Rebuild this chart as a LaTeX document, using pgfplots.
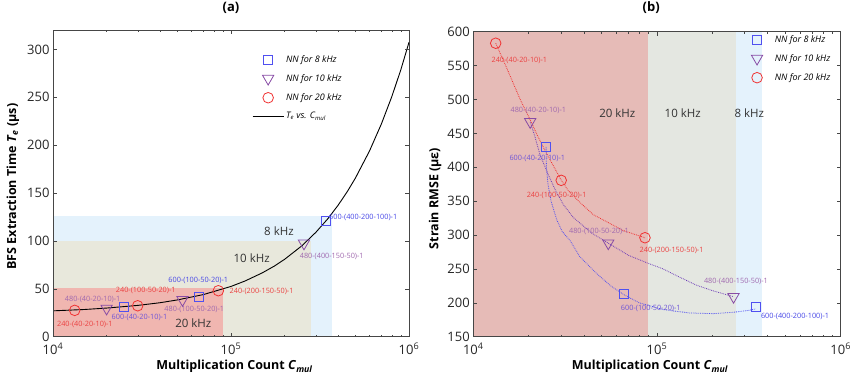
\documentclass[border=0pt]{standalone}
\usepackage{fontspec}
\setmainfont{Open Sans}
\usepackage{pgfplots}
\pgfplotsset{compat=1.18}
\definecolor{regR}{RGB}{240,182,176}
\definecolor{regG}{RGB}{232,232,220}
\definecolor{regB}{RGB}{228,242,252}
\definecolor{regRb}{RGB}{230,187,183}
\definecolor{regGb}{RGB}{228,231,225}
\definecolor{mB}{RGB}{80,80,240}
\definecolor{mP}{RGB}{135,75,165}
\definecolor{mR}{RGB}{240,50,50}
\definecolor{tB}{RGB}{70,70,230}
\definecolor{tP}{RGB}{160,105,175}
\definecolor{tBP}{RGB}{110,85,215}
\definecolor{tR}{RGB}{235,65,65}
\definecolor{axc}{RGB}{70,70,70}
\tikzset{lab/.style={font=\fontsize{7.3}{8}\selectfont, inner sep=0pt},
  reg/.style={font=\fontsize{11.5}{13}\selectfont, text=black!80}}
\pgfplotsset{
  myax/.style={
    scale only axis, anchor=south west,
    xtick={1e4,1e5,1e6},
    xticklabels={10\textsuperscript{4},10\textsuperscript{5},10\textsuperscript{6}},
    tick align=inside,
    major tick length=4pt, minor tick length=2pt,
    axis line style={axc, line width=0.6pt},
    every tick/.style={axc, line width=0.5pt},
    tick label style={font=\fontsize{13}{15}\selectfont, text=black!85},
    xticklabel style={yshift=-3pt},
    /pgf/number format/assume math mode=true,
    axis on top,
    label style={font=\bfseries\fontsize{12.5}{14}\selectfont},
    title style={font=\bfseries\fontsize{13}{15}\selectfont},
    legend cell align=left,
    legend style={draw=none, fill=none, font=\itshape\fontsize{9}{11}\selectfont,
      row sep=6.5pt, inner sep=0pt},
    legend image code/.code={\path (0pt,-3pt) (31pt,3pt); \draw[mark repeat=2,mark phase=2,##1] plot coordinates {(0pt,0pt) (15.5pt,0pt) (31pt,0pt)};},
  },
  sq/.style={only marks, mark=square, mark size=4.5pt, mB, mark options={line width=0.8pt}},
  tri/.style={only marks, mark=triangle, mark size=6.5pt, mP, mark options={rotate=180, line width=0.8pt}},
  cir/.style={only marks, mark=o, mark size=5.3pt, mR, mark options={line width=0.8pt}},
}
\begin{document}
\begin{tikzpicture}[x=1pt,y=1pt]
\path[use as bounding box] (0,0) rectangle (863,382);
% ---------------- (a)
\begin{axis}[xmode=log, xmin=1e4, xmax=1e6, myax, at={(53pt,45.3pt)}, width=356pt, height=306.4pt,
  ymin=0, ymax=320, ytick={0,50,100,150,200,250,300},
  title={(a)}, title style={at={(axis description cs:0.5,1.052)}, anchor=center},
  xlabel={Multiplication Count \textit{C}\textsubscript{\textit{mul}}},
  xlabel style={at={(axis description cs:0.51,-0.098)}, anchor=center},
  ylabel={BFS Extraction Time \textit{T}\textsubscript{\textit{e}} (μs)},
  ylabel style={at={(axis description cs:-0.113,0.49)}, anchor=center, rotate=0},
  legend style={at={(axis description cs:0.559,0.925)}, anchor=north west},
]
\addplot[fill=regB, draw=none, forget plot] coordinates {(1e4,0) (3.68e5,0) (3.68e5,126) (1e4,126)} -- cycle;
\addplot[fill=regG, draw=none, forget plot] coordinates {(1e4,0) (2.8e5,0) (2.8e5,100) (1e4,100)} -- cycle;
\addplot[fill=regR, draw=none, forget plot] coordinates {(1e4,0) (8.98e4,0) (8.98e4,50.5) (1e4,50.5)} -- cycle;
\addplot[sq] coordinates {(24900,30.7) (66000,41.8) (340000,121)};
\addlegendentry{NN for 8 kHz}
\addplot[tri] coordinates {(20000,29.5) (53400,38.5) (257000,97.5)};
\addlegendentry{NN for 10 kHz}
\addplot[cir] coordinates {(13240,27.5) (29900,32.3) (84900,48)};
\addlegendentry{NN for 20 kHz}
\addplot[black, line width=0.9pt] coordinates {
 (10000,27.0) (15000,28.4) (20000,29.9) (30000,32.7) (40000,35.5) (50000,38.4)
 (70000,44.0) (100000,52.5) (120000,58.2) (150000,66.7) (175000,73.7) (200000,80.8)
 (250000,94.9) (300000,109.1) (350000,123.2) (400000,137.4) (450000,151.5) (500000,165.7)
 (600000,194.0) (700000,222.3) (800000,250.6) (900000,278.9) (1000000,307.5)};
\addlegendentry{\textit{T}\textsubscript{\textit{e}} vs. \textit{C}\textsubscript{\textit{mul}}}
\node[reg] at (axis cs:186000,110.6) {8 kHz};
\node[reg] at (axis cs:130600,82.5) {10 kHz};
\node[reg] at (axis cs:61400,14) {20 kHz};
\node[lab, text=tR] at (axis cs:15100,13) {240-(40-20-10)-1};
\node[lab, text=tP] at (axis cs:16700,39) {480-(40-20-10)-1};
\node[lab, text=tBP] at (axis cs:30600,20.5) {600-(40-20-10)-1};
\node[lab, text=tR] at (axis cs:33200,48.7) {240-(100-50-20)-1};
\node[lab, text=tP] at (axis cs:62200,28) {480-(100-50-20)-1};
\node[lab, text=tB] at (axis cs:65500,58.5) {600-(100-50-20)-1};
\node[lab, text=tR] at (axis cs:148500,47) {240-(200-150-50)-1};
\node[lab, text=tP] at (axis cs:368000,83.5) {480-(400-150-50)-1};
\node[lab, text=tB] at (axis cs:553000,124.6) {600-(400-200-100)-1};
\end{axis}
% ---------------- (b)
\begin{axis}[xmode=log, xmin=1e4, xmax=1e6, myax, at={(473.3pt,45.3pt)}, width=367.4pt, height=305pt,
  ymin=150, ymax=600, ytick={150,200,...,600},
  title={(b)}, title style={at={(axis description cs:0.484,1.058)}, anchor=center},
  xlabel={Multiplication Count \textit{C}\textsubscript{\textit{mul}}},
  xlabel style={at={(axis description cs:0.481,-0.098)}, anchor=center},
  ylabel={Strain RMSE (με)},
  ylabel style={at={(axis description cs:-0.104,0.453)}, anchor=center},
  legend style={at={(axis description cs:0.729,0.995)}, anchor=north west},
]
\addplot[fill=regRb, draw=none, forget plot] coordinates {(1e4,150) (8.98e4,150) (8.98e4,600) (1e4,600)} -- cycle;
\addplot[fill=regGb, draw=none, forget plot] coordinates {(8.98e4,150) (2.69e5,150) (2.69e5,600) (8.98e4,600)} -- cycle;
\addplot[fill=regB, draw=none, forget plot] coordinates {(2.69e5,150) (3.71e5,150) (3.71e5,600) (2.69e5,600)} -- cycle;
\addplot[mR, densely dotted, line width=0.8pt, forget plot] coordinates {
 (13240,583) (15000,550) (16500,524) (18000,500) (20400,470) (22500,445) (25100,420)
 (30100,381) (33000,365) (38100,348) (45000,330) (55500,317) (65000,307) (77500,300) (86000,296)};
\addplot[mP!80!blue, densely dotted, line width=0.8pt, forget plot] coordinates {
 (20400,467) (21500,448) (23100,418) (25500,390) (28000,366) (30900,345) (35000,326)
 (44000,303) (54300,288) (70000,270) (90000,258) (108000,250) (130000,239) (164000,226)
 (200000,218) (261000,209)};
\addplot[mB, densely dotted, line width=0.8pt, forget plot] coordinates {
 (24900,430) (25000,400) (25500,375) (26500,350) (28500,322) (30500,305) (33600,292)
 (38000,268) (47000,243) (56000,225) (66000,212) (80000,200) (108000,190) (150000,185)
 (202000,184) (260000,186) (320000,189) (344000,191)};
\addplot[sq] coordinates {(24900,430) (66000,212.5) (344000,194)};
\addlegendentry{NN for 8 kHz}
\addplot[tri] coordinates {(20400,467) (54300,288) (261000,209)};
\addlegendentry{NN for 10 kHz}
\addplot[cir] coordinates {(13240,583) (30100,380.7) (86000,296)};
\addlegendentry{NN for 20 kHz}
\node[reg] at (axis cs:60800,479.5) {20 kHz};
\node[reg] at (axis cs:138000,480) {10 kHz};
\node[reg] at (axis cs:318000,480) {8 kHz};
\node[lab, text=tR] at (axis cs:17800,558) {240-(40-20-10)-1};
\node[lab, text=tP] at (axis cs:22600,484) {480-(40-20-10)-1};
\node[lab, text=tBP] at (axis cs:22300,412.6) {600-(40-20-10)-1};
\node[lab, text=tR] at (axis cs:28400,359) {240-(100-50-20)-1};
\node[lab, text=tP] at (axis cs:48300,306) {480-(100-50-20)-1};
\node[lab, text=tR] at (axis cs:120000,278) {240-(200-150-50)-1};
\node[lab, text=tBP] at (axis cs:92500,192) {600-(100-50-20)-1};
\node[lab, text=tP] at (axis cs:269000,231) {480-(400-150-50)-1};
\node[lab, text=tB] at (axis cs:564000,179.5) {600-(400-200-100)-1};
\end{axis}
\end{tikzpicture}
\end{document}
